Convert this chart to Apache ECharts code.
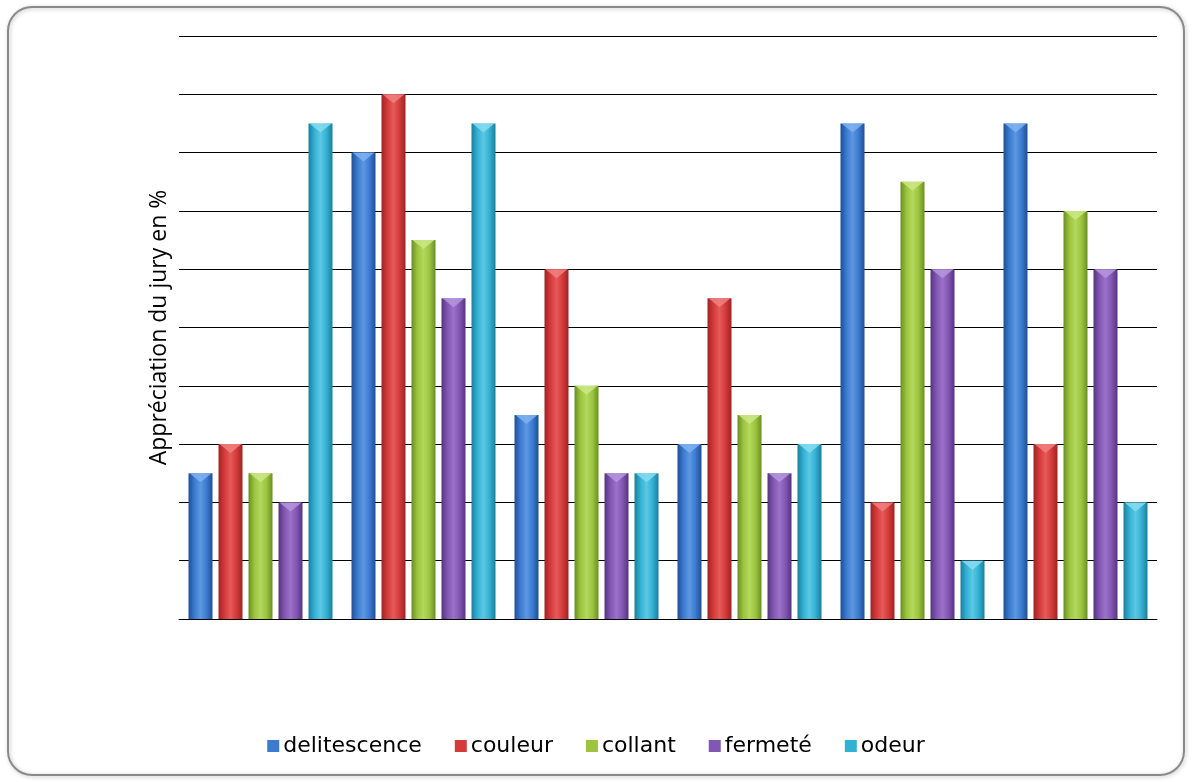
<!DOCTYPE html>
<html>
<head>
<meta charset="utf-8">
<script src="https://cdn.jsdelivr.net/npm/echarts@6/dist/echarts.min.js"></script>
<style>
  html, body { margin: 0; padding: 0; background: #ffffff; }
  #chart { width: 1192px; height: 782px; }
</style>
</head>
<body>
<div id="chart"></div>
<script>
// Six samples, five sensory criteria (values in %)
const categories = ['1', '2', '3', '4', '5', '6'];
const delitescence = [25, 80, 35, 30, 85, 85];
const couleur      = [30, 90, 60, 55, 20, 30];
const collant      = [25, 65, 40, 35, 75, 70];
const fermete      = [20, 55, 25, 25, 60, 60];
const odeur        = [85, 85, 25, 30, 10, 20];

const seriesNames = ['delitescence', 'couleur', 'collant', 'fermeté', 'odeur'];
const seriesData = [delitescence, couleur, collant, fermete, odeur];
// [edge, mid, highlight, cap] tones for a rounded, glossy bar look
const palettes = [
  ['#1f4f95', '#3b7bd0', '#5c97e0', '#7fb2f0'],
  ['#9e2323', '#d43a3a', '#e65a5a', '#f08080'],
  ['#6a8f22', '#9cc43f', '#b3d85e', '#cbe886'],
  ['#553480', '#8256b3', '#9a72c8', '#b596dc'],
  ['#1a7f9c', '#33b1d4', '#5cc8e4', '#86dcf0']
];

function barFill(p) {
  return new echarts.graphic.LinearGradient(0, 0, 1, 0, [
    { offset: 0, color: p[0] },
    { offset: 0.25, color: p[1] },
    { offset: 0.5, color: p[2] },
    { offset: 0.75, color: p[1] },
    { offset: 1, color: p[0] }
  ]);
}

const BAR_W = 24;
const BAR_GAP = '25%';

const chart = echarts.init(document.getElementById('chart'), null, { renderer: 'canvas' });

const barSeries = seriesNames.map((name, i) => ({
  name: name,
  type: 'bar',
  data: seriesData[i],
  barWidth: BAR_W,
  barGap: BAR_GAP,
  itemStyle: { color: barFill(palettes[i]) }
}));

// Bevelled cap on top of each bar
const capSeries = seriesNames.map((name, i) => ({
  name: name,
  type: 'pictorialBar',
  data: seriesData[i],
  barWidth: BAR_W,
  barGap: BAR_GAP,
  symbol: 'path://M0,0 L10,0 L5,4 Z',
  symbolSize: [BAR_W - 2, 9],
  symbolPosition: 'end',
  symbolOffset: [0, 0],
  itemStyle: { color: palettes[i][3], opacity: 0.85 },
  z: 3,
  silent: true
}));

chart.setOption({
  animation: false,
  backgroundColor: '#ffffff',
  graphic: [{
    type: 'rect',
    shape: { x: 8, y: 7, width: 1176, height: 768, r: 24 },
    style: {
      fill: 'rgba(0,0,0,0)',
      stroke: '#8a8a8a',
      lineWidth: 2,
      shadowBlur: 4,
      shadowColor: 'rgba(0,0,0,0.25)',
      shadowOffsetX: 1,
      shadowOffsetY: 1
    },
    z: -1
  }],
  grid: { left: 179, right: 35, top: 36, bottom: 163, containLabel: false },
  legend: {
    bottom: 20,
    left: 'center',
    itemWidth: 12,
    itemHeight: 12,
    itemGap: 33,
    icon: 'rect',
    textStyle: { fontFamily: 'DejaVu Sans', fontSize: 22, color: '#000', padding: [0, 0, 0, -1] },
    data: seriesNames.map((name, i) => ({ name: name, itemStyle: { color: palettes[i][1] } }))
  },
  xAxis: {
    type: 'category',
    data: categories,
    axisLine: { show: true, lineStyle: { color: '#000', width: 1 } },
    axisTick: { show: false },
    axisLabel: { show: false }
  },
  yAxis: {
    type: 'value',
    min: 0,
    max: 100,
    interval: 10,
    name: 'Appréciation du jury en %',
    nameLocation: 'middle',
    nameGap: 8,
    nameRotate: 90,
    nameTextStyle: { fontFamily: 'Open Sans', fontSize: 23, color: '#000' },
    axisLine: { show: false },
    axisTick: { show: false },
    axisLabel: { show: false },
    splitLine: { lineStyle: { color: '#000', width: 1 } }
  },
  series: barSeries.concat(capSeries)
});
</script>
</body>
</html>
